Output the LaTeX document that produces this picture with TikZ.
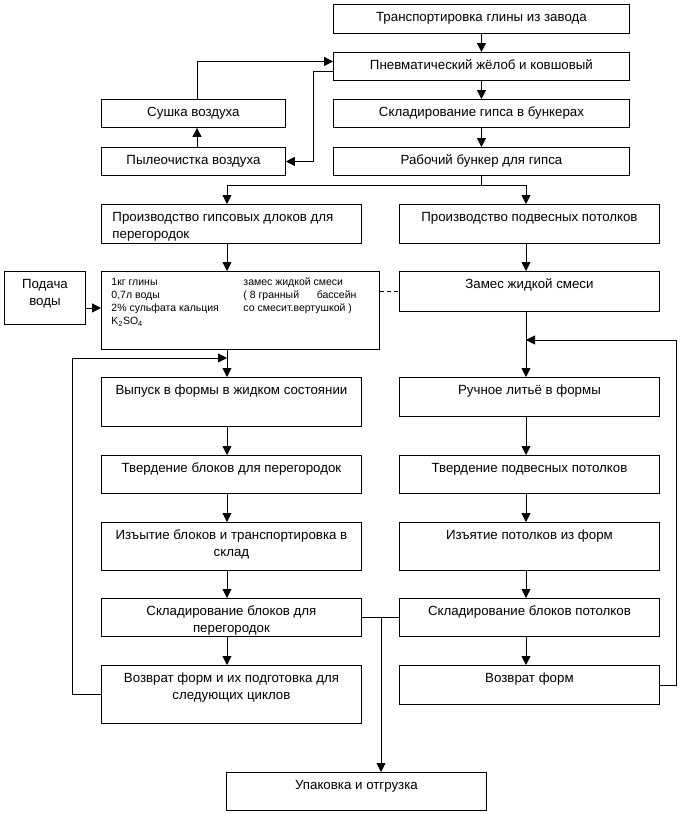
\documentclass[tikz,border=0pt]{standalone}
\usepackage{fontspec}
\setmainfont{Liberation Sans}
\usetikzlibrary{arrows.meta,calc}
\newcommand\bx[7]{\node[box, anchor=north west] (#1) at (#2,#3) {\parbox[c][\dimexpr#5pt-#3pt\relax][t]{\dimexpr#4pt-#2pt\relax}{#6\vspace*{5.6pt}\strut#7}};}
\begin{document}
\begin{tikzpicture}[x=1pt,y=-1pt,
  box/.style={draw, line width=0.9pt, inner sep=0pt, font=\fontsize{13.3}{17}\selectfont},
  arr/.style={-{Triangle[length=9pt,width=9pt]}, line width=0.9pt},
  ln/.style={line width=0.9pt}]
\useasboundingbox (0,0) rectangle (680,814);
\coordinate (cL) at (227,0);
\coordinate (cR) at (526,0);
\coordinate (cS) at (197,0);

\bx{b1}{333}{4}{629}{33}{\centering}{Транспортировка глины из завода}
\bx{b2}{333}{52}{629}{80}{\centering}{Пневматический жёлоб и ковшовый}
\bx{b3}{333}{99}{629}{127}{\centering}{Складирование гипса в бункерах}
\bx{b4}{333}{147}{629}{175}{\centering}{Рабочий бункер для гипса}
\bx{sush}{101}{99}{285}{127}{\centering}{Сушка воздуха}
\bx{pyl}{101}{147}{285}{175}{\centering}{Пылеочистка воздуха}
\bx{prodL}{101}{204}{361}{243}{\raggedright\leftskip=11pt\relax}{Производство гипсовых длоков для\\перегородок}
\bx{prodR}{399}{204}{659}{243}{\centering}{Производство подвесных потолков}
\bx{pod}{4}{271}{85}{324}{\centering}{Подача\\воды}
\node[box, anchor=north west] (mix) at (101,271) {\parbox[c][78pt][t]{278pt}{\fontsize{10.5}{13}\selectfont\vspace*{5.4pt}\noindent\hspace*{10pt}\parbox[t]{132pt}{\strut 1кг глины\\0,7л воды\\2\% сульфата кальция\\K\textsubscript{2}SO\textsubscript{4}}\parbox[t]{125pt}{\strut замес жидкой смеси\\\hbox to 113pt{( 8 гранный\hfill бассейн}\\со смесит.вертушкой )}}};
\bx{zam}{399}{271}{659}{311}{\centering}{Замес жидкой смеси}
\bx{vyp}{101}{377}{361}{426}{\centering}{Выпуск в формы в жидком состоянии}
\bx{tvL}{101}{455}{361}{493}{\centering}{Твердение блоков для перегородок}
\bx{izL}{101}{522}{361}{570}{\centering}{Изъытие блоков и транспортировка в\\склад}
\bx{skL}{101}{598}{361}{636}{\centering}{Складирование блоков для\\перегородок}
\bx{vozL}{101}{665}{361}{723}{\centering}{Возврат форм и их подготовка для\\следующих циклов}
\bx{ruch}{399}{377}{659}{416}{\centering}{Ручное литьё в формы}
\bx{tvR}{399}{455}{659}{493}{\centering}{Твердение подвесных потолков}
\bx{izR}{399}{522}{659}{570}{\centering}{Изъятие потолков из форм}
\bx{skR}{399}{598}{659}{636}{\centering}{Складирование блоков потолков}
\bx{vozR}{399}{665}{659}{704}{\centering}{Возврат форм}
\bx{upak}{226}{772}{486}{810}{\centering}{Упаковка и отгрузка}

% top chain
\draw[arr] (b1) -- (b2);
\draw[arr] (b2) -- (b3);
\draw[arr] (b3) -- (b4);
\draw[arr] (sush.north -| cS) |- ([yshift=5pt]b2.west);
\draw[arr] ([yshift=-5pt]b2.west) -- ++(-20,0) |- (pyl.east);
\draw[arr] (pyl.north -| cS) -- (sush.south -| cS);
% split
\coordinate (sp) at ($(b4.south)+(0,10)$);
\draw[arr] (b4.south) -- (sp) -| (prodL.north -| cL);
\draw[arr] (sp) -| (prodR.north -| cR);
\draw[arr] (prodL.south -| cL) -- (mix.north -| cL);
\draw[arr] (prodR.south -| cR) -- (zam.north -| cR);
\coordinate (pe) at ([yshift=-10pt]pod.east);
\draw[arr] (pe) -- (pe -| mix.west);
\draw[ln, dash pattern=on 4pt off 3pt] (mix.east |- zam.west) -- (zam.west);
% left column
\coordinate (jL) at (227,358);
\draw[arr] (mix.south -| cL) -- (vyp.north -| cL);
\draw[arr] (vozL.west) -- ++(-29,0) |- (jL);
\draw[arr] (vyp.south -| cL) -- (tvL.north -| cL);
\draw[arr] (tvL.south -| cL) -- (izL.north -| cL);
\draw[arr] (izL.south -| cL) -- (skL.north -| cL);
\draw[arr] (skL.south -| cL) -- (vozL.north -| cL);
% right column
\coordinate (jR) at (526,340);
\draw[arr] (zam.south -| cR) -- (ruch.north -| cR);
\draw[arr] (vozR.east) -- ++(17,0) |- (jR);
\draw[arr] (ruch.south -| cR) -- (tvR.north -| cR);
\draw[arr] (tvR.south -| cR) -- (izR.north -| cR);
\draw[arr] (izR.south -| cR) -- (skR.north -| cR);
\draw[arr] (skR.south -| cR) -- (vozR.north -| cR);
% storage to packing
\coordinate (jS) at (381,617);
\draw[ln] (skL.east) -- (skR.west);
\draw[arr] (jS) -- (upak.north -| jS);
\end{tikzpicture}
\end{document}
